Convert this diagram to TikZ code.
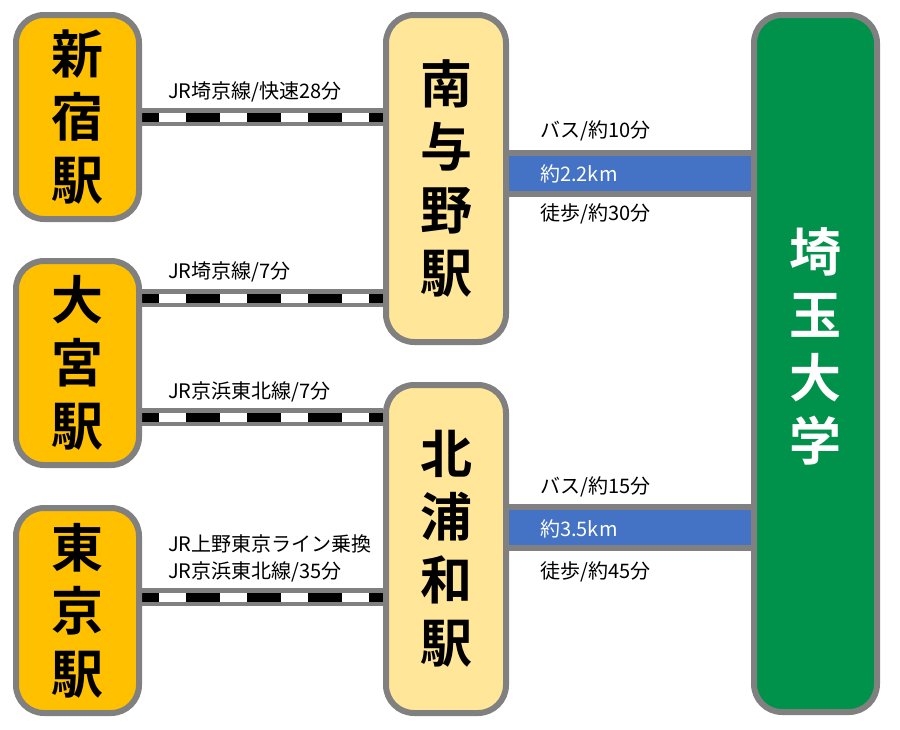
\documentclass[tikz,border=0pt]{standalone}
\usepackage{fontspec}
\setmainfont{Noto Sans CJK JP}[BoldFont={Noto Sans CJK JP Bold}]
\usetikzlibrary{backgrounds}
\definecolor{linegray}{RGB}{128,128,128}
\definecolor{startorange}{RGB}{255,192,0}
\definecolor{midyellow}{RGB}{255,230,153}
\definecolor{unigreen}{RGB}{0,145,74}
\definecolor{roadblue}{RGB}{68,114,196}
\tikzset{
  stationbox/.style={draw=linegray, line width=6pt, rounded corners=28pt, minimum width=123pt,
    inner sep=0pt, align=center, font=\bfseries\fontsize{52}{63}\selectfont},
  unitext/.style={align=center, inner sep=0pt, text=white, font=\bfseries\fontsize{52}{63}\selectfont},
  track/.style={draw=linegray, line width=18pt,
    postaction={draw=white, line width=9pt},
    postaction={draw=black, line width=9pt, dash pattern=on 34pt off 27pt, dash phase=17pt}},
  roadband/.style={draw=linegray, line width=47pt, postaction={draw=roadblue, line width=35pt}},
  routelabel/.style={anchor=west, inner sep=0pt, align=left, font=\fontsize{20}{27}\selectfont},
  kmlabel/.style={routelabel, text=white}
}
\begin{document}
\begin{tikzpicture}[x=1pt,y=-1pt]
			\useasboundingbox (0,0) rectangle (900,729);
			
			%%%%% stations %%%%%
			\node[stationbox, fill=startorange, minimum height=204pt] (shinjuku) at (77.5,117) {新\\宿\\駅};
			\node[stationbox, fill=startorange, minimum height=204pt] (omiya) at (77.5,363) {大\\宮\\駅};
			\node[stationbox, fill=startorange, minimum height=205pt] (tokyo) at (77.5,610.5) {東\\京\\駅};
			
			\node[stationbox, fill=midyellow, minimum width=120pt, minimum height=327pt] (minamiyono) at (446,178.5) {南\\与\\野\\駅};
			\node[stationbox, fill=midyellow, minimum width=120pt, minimum height=328pt] (kitaurawa) at (446,549) {北\\浦\\和\\駅};
			
			\node[stationbox, fill=unigreen, minimum height=697pt] (saidai) at (815.5,363.5) {};
			\node[unitext] (saidaitext) at ([yshift=17pt]saidai.center) {埼\\玉\\大\\学};
			
			%%%%% tracks and roads %%%%%
			\coordinate (omiyaup) at ([yshift=65pt]omiya.east);
			\coordinate (omiyadown) at ([yshift=-54pt]omiya.east);
			\coordinate (tokyoup) at ([yshift=13.5pt]tokyo.east);
			\coordinate (yonoroad) at ([yshift=5pt]minamiyono.east);
			\coordinate (urawaroad) at ([yshift=22pt]kitaurawa.east);
			
			\begin{scope}[on background layer]
				\draw[track] (shinjuku.east) -- (shinjuku.east -| minamiyono.west);
				\draw[track] (omiyaup) -- (omiyaup -| minamiyono.west);
				\draw[track] (omiyadown) -- (omiyadown -| kitaurawa.west);
				\draw[track] (tokyoup) -- (tokyoup -| kitaurawa.west);
				
				\draw[roadband] (yonoroad) -- (yonoroad -| saidai.west);
				\draw[roadband] (urawaroad) -- (urawaroad -| saidai.west);
			\end{scope}
			
			%%%%% labels %%%%%
			\node[routelabel] (shinjukulabel) at (168,92) {JR埼京線/快速28分};
			\node[routelabel] (omiyauplabel) at (168,272) {JR埼京線/7分};
			\node[routelabel] (omiyadownlabel) at (168,392) {JR京浜東北線/7分};
			\node[routelabel] (tokyolabel) at (168,558.5) {JR上野東京ライン乗換\\JR京浜東北線/35分};
			
			\node[routelabel] (yonobus) at (540,131) {バス/約10分};
			\node[kmlabel] (yonokm) at (540,174) {約2.2km};
			\node[routelabel] (yonowalk) at (540,214) {徒歩/約30分};
			
			\node[routelabel] (urawabus) at (540,487) {バス/約15分};
			\node[kmlabel] (urawakm) at (540,529) {約3.5km};
			\node[routelabel] (urawawalk) at (540,572) {徒歩/約45分};
			
\end{tikzpicture}
\end{document}
